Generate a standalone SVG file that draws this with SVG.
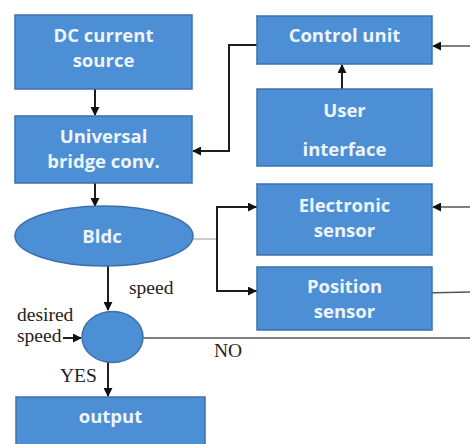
<svg xmlns="http://www.w3.org/2000/svg" width="470" height="444" viewBox="0 0 470 444">
  <style>
    .blk { fill: #4d8fd5; stroke: #3c70aa; stroke-width: 1.5; }
    .lbl { font-family: "Open Sans", "DejaVu Sans", sans-serif; font-weight: bold; font-size: 18.5px; fill: #eef4fc; text-anchor: middle; }
    .note { font-family: "Liberation Serif", "Times New Roman", serif; font-size: 19.5px; fill: #222; }
    .wire { fill: none; stroke: #1e1e1e; stroke-width: 2; }
    .thin { fill: none; stroke: #555; stroke-width: 1.6; }
  </style>
  <defs>
    <marker id="head" viewBox="0 0 10 10" refX="9" refY="5" markerWidth="9" markerHeight="9" markerUnits="userSpaceOnUse" orient="auto">
      <path d="M0,0 L10,5 L0,10 z" fill="#111"/>
    </marker>
  </defs>
  <rect width="470" height="444" fill="#ffffff"/>

  <!-- connectors -->
  <g id="connectors">
    <line class="wire" x1="95" y1="89" x2="95" y2="115" marker-end="url(#head)"/>
    <line class="wire" x1="95" y1="183" x2="95" y2="206" marker-end="url(#head)"/>
    <polyline class="wire" points="257,45 229,45 229,151 193,151" marker-end="url(#head)"/>
    <line class="wire" x1="342" y1="105" x2="342" y2="65" marker-end="url(#head)"/>
    <line class="thin" x1="470" y1="46" x2="433" y2="46" marker-end="url(#head)"/>
    <line class="thin" x1="470" y1="207" x2="433" y2="207" marker-end="url(#head)"/>
    <line class="thin" x1="470" y1="292" x2="424" y2="293" marker-end="url(#head)"/>
    <line x1="193" y1="239" x2="217" y2="239" stroke="#a09a90" stroke-width="1"/>
    <polyline class="wire" points="257,207 217,207 217,291 257,291" stroke-width="1.8"/>
    <line class="wire" x1="217" y1="207" x2="256" y2="207" marker-end="url(#head)"/>
    <line class="wire" x1="217" y1="291" x2="256" y2="291" marker-end="url(#head)"/>
    <line class="wire" x1="108" y1="266" x2="108" y2="310" marker-end="url(#head)"/>
    <line class="wire" x1="63" y1="338" x2="81" y2="338" marker-end="url(#head)"/>
    <line class="wire" x1="108" y1="362" x2="108" y2="396" marker-end="url(#head)"/>
    <line class="thin" x1="143" y1="338" x2="470" y2="338" stroke-width="2"/>
  </g>

  <g id="dc-source">
    <rect class="blk" x="15" y="15" width="177" height="74"/>
    <text class="lbl" x="103.5" y="42">DC current</text>
    <text class="lbl" x="103.5" y="67">source</text>
  </g>

  <g id="bridge-conv">
    <rect class="blk" x="15" y="116" width="177" height="67"/>
    <text class="lbl" x="103.5" y="143">Universal</text>
    <text class="lbl" x="103.5" y="168">bridge conv.</text>
  </g>

  <g id="bldc">
    <ellipse class="blk" cx="104" cy="236" rx="89" ry="30"/>
    <text class="lbl" x="102" y="243">Bldc</text>
  </g>

  <g id="control-unit">
    <rect class="blk" x="257" y="16" width="175" height="48"/>
    <text class="lbl" x="344.5" y="42">Control unit</text>
  </g>

  <g id="user-interface">
    <rect class="blk" x="257" y="89" width="175" height="77"/>
    <text class="lbl" x="344.5" y="117">User</text>
    <text class="lbl" x="344.5" y="156">interface</text>
  </g>

  <g id="electronic-sensor">
    <rect class="blk" x="257" y="184" width="175" height="71"/>
    <text class="lbl" x="344.5" y="212">Electronic</text>
    <text class="lbl" x="344.5" y="237">sensor</text>
  </g>

  <g id="position-sensor">
    <rect class="blk" x="257" y="267" width="175" height="63"/>
    <text class="lbl" x="344.5" y="293">Position</text>
    <text class="lbl" x="344.5" y="318">sensor</text>
  </g>

  <g id="compare">
    <ellipse class="blk" cx="112.5" cy="337" rx="30.5" ry="25.5"/>
  </g>

  <g id="output">
    <rect class="blk" x="16" y="397" width="189" height="50"/>
    <text class="lbl" x="110.5" y="423">output</text>
  </g>

  <!-- signal labels -->
  <g id="labels">
    <text class="note" x="129" y="294">speed</text>
    <text class="note" x="17" y="321">desired</text>
    <text class="note" x="17" y="342">speed</text>
    <text class="note" x="60" y="382" font-size="16">YES</text>
    <text class="note" x="214" y="357" font-size="16">NO</text>
  </g>
</svg>
